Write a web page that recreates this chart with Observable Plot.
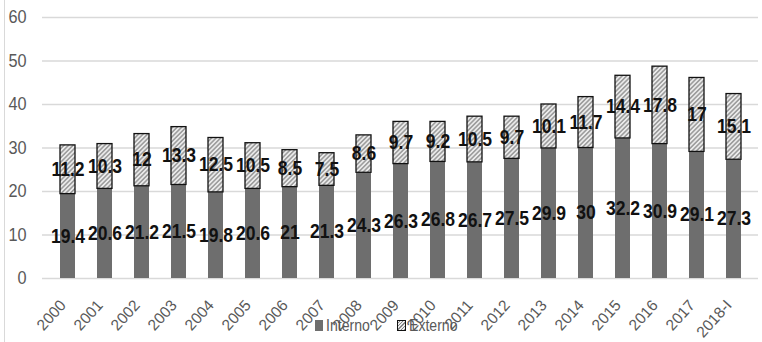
<!DOCTYPE html>
<html>
<head>
<meta charset="utf-8">
<script src="https://cdn.jsdelivr.net/npm/d3@7"></script>
<script src="https://cdn.jsdelivr.net/npm/@observablehq/plot@0.6"></script>
<style>
  body { margin: 0; background: #fff; }
  #wrap { position: relative; width: 762px; height: 342px; overflow: hidden; }
  #edge { position: absolute; left: 4px; top: 0; width: 1px; height: 342px; background: #d9d9d9; }
  .lg { position: absolute; font-family: 'Liberation Sans', Arial, sans-serif; font-size: 16px; line-height: 16px; color: #595959; white-space: nowrap; transform: scaleX(0.88); transform-origin: left center; }
  .sw { position: absolute; }
</style>
</head>
<body>
<div id="wrap"><div id="edge"></div></div>
<script>
const years = ["2000","2001","2002","2003","2004","2005","2006","2007","2008","2009","2010","2011","2012","2013","2014","2015","2016","2017","2018-I"];
const interno = [19.4,20.6,21.2,21.5,19.8,20.6,21,21.3,24.3,26.3,26.8,26.7,27.5,29.9,30,32.2,30.9,29.1,27.3];
const externo = [11.2,10.3,12,13.3,12.5,10.5,8.5,7.5,8.6,9.7,9.2,10.5,9.7,10.1,11.7,14.4,17.8,17,15.1];
const yTicks = [0,10,20,30,40,50,60];
const seriesNames = ["Interno","Externo"];

const rows = years.map((year, i) => ({year, interno: interno[i], externo: externo[i], total: interno[i] + externo[i]}));

const FONT = "'Liberation Sans', Arial, sans-serif";
const labelFont = {fontSize: 19.5, fontWeight: "bold", fill: "#111", fontFamily: FONT};

const chart = Plot.plot({
  width: 762,
  height: 342,
  marginLeft: 42,
  marginRight: 4,
  marginTop: 17,
  marginBottom: 64,
  style: {fontFamily: FONT, color: "#595959", background: "transparent"},
  x: {domain: years, paddingInner: 0.6, paddingOuter: 0.33, label: null},
  y: {domain: [0, 60], label: null},
  marks: [
    Plot.gridY(yTicks, {stroke: "#d9d9d9", strokeOpacity: 1, strokeWidth: 1.5}),
    Plot.axisY(yTicks, {tickSize: 0, tickPadding: 16, fontSize: 18.5, label: null}),
    Plot.axisX({tickSize: 0, tickRotate: -48, tickPadding: 24, dx: -5, fontSize: 15.5, label: null}),
    Plot.barY(rows, {x: "year", y1: 0, y2: "interno", fill: "#6e6e6e"}),
    Plot.barY(rows, {x: "year", y1: "interno", y2: "total", fill: "url(#hatch)", stroke: "#111", strokeWidth: 1.3}),
    Plot.text(rows, {x: "year", y: d => d.interno / 2, text: d => String(d.interno), ...labelFont}),
    Plot.text(rows, {x: "year", y: d => d.interno + d.externo / 2, text: d => String(d.externo), ...labelFont})
  ]
});

const svg = d3.select(chart);
const defs = svg.insert("defs", ":first-child");
const pat = defs.append("pattern").attr("id", "hatch").attr("patternUnits", "userSpaceOnUse")
  .attr("width", 3.2).attr("height", 3.2).attr("patternTransform", "rotate(45)");
pat.append("rect").attr("width", 3.2).attr("height", 3.2).attr("fill", "#ebebeb");
pat.append("line").attr("x1", 0.8).attr("y1", 0).attr("x2", 0.8).attr("y2", 3.2).attr("stroke", "#858585").attr("stroke-width", 1.2);

// narrow the text horizontally to match the condensed look of the reference
svg.selectAll('g[aria-label="text"] text').each(function() {
  const t = this.getAttribute("transform") || "";
  this.setAttribute("transform", t + " scale(0.9,1)");
});
svg.selectAll('g[aria-label="y-axis tick label"] text').each(function() {
  const t = this.getAttribute("transform") || "";
  this.setAttribute("transform", t + " scale(0.88,1)");
});

const wrap = document.getElementById("wrap");
wrap.appendChild(chart);

function add(html) { wrap.insertAdjacentHTML("beforeend", html); }
add(`<div class="sw" style="left:315px;top:320px;width:8px;height:11px;background:#6e6e6e"></div>`);
add(`<div class="lg" style="left:326px;top:318px">${seriesNames[0]}</div>`);
add(`<div class="sw" style="left:397px;top:320px;width:7px;height:9px;border:1px solid #111;background:repeating-linear-gradient(-45deg,#858585 0 1px,#ebebeb 1px 2.4px)"></div>`);
add(`<div class="lg" style="left:409px;top:318px">${seriesNames[1]}</div>`);
</script>
</body>
</html>
